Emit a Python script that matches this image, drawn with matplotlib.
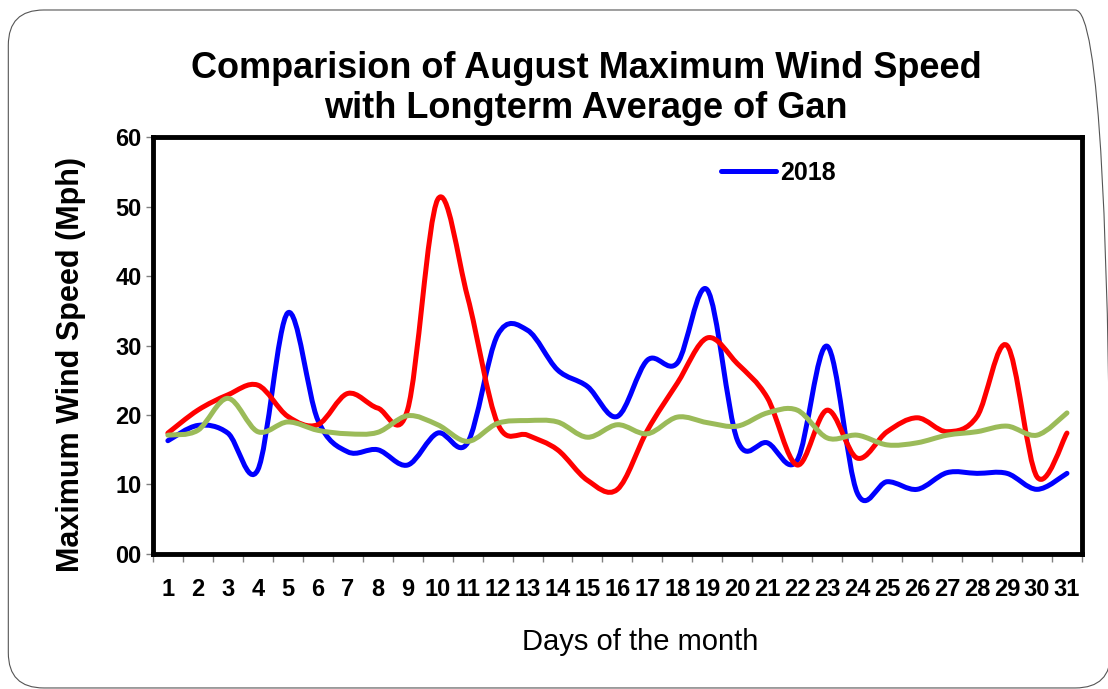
import matplotlib
matplotlib.use("Agg")
import matplotlib.pyplot as plt
from matplotlib.path import Path
from matplotlib.patches import PathPatch, FancyBboxPatch
from matplotlib.lines import Line2D

plt.rcParams['font.family'] = ['Liberation Sans', 'DejaVu Sans']

days = list(range(1, 32))
y2018 = [16.3, 18.5, 17.4, 12.1, 34.7, 19.3, 14.7, 15.0, 12.8, 17.4,
         16.0, 31.5, 32.2, 26.5, 24.1, 19.8, 27.9, 27.5, 38.0, 16.4,
         16.0, 13.5, 29.9, 8.8, 10.4, 9.3, 11.7, 11.6, 11.6, 9.3, 11.6]
y_red = [17.4, 20.7, 22.9, 24.3, 19.8, 18.6, 23.1, 21.0, 20.8, 51.0,
         37.0, 18.8, 17.1, 15.0, 10.6, 9.3, 17.8, 24.6, 31.1, 27.4,
         22.5, 12.8, 20.7, 13.8, 17.6, 19.6, 17.6, 19.8, 30.0, 11.1, 17.4]
y_green = [17.1, 17.8, 22.4, 17.6, 19.0, 17.8, 17.3, 17.5, 19.9, 18.6,
           16.2, 18.8, 19.2, 19.0, 16.8, 18.6, 17.3, 19.7, 18.9, 18.4,
           20.3, 20.7, 16.7, 17.1, 15.7, 16.0, 17.1, 17.6, 18.4, 17.1, 20.3]
yticks = [0, 10, 20, 30, 40, 50, 60]
ytick_labels = ['00', '10', '20', '30', '40', '50', '60']


def smooth_path(x, y):
    # Excel-like smoothed line: cubic Bezier segments (Catmull-Rom control points)
    verts = [(x[0], y[0])]
    codes = [Path.MOVETO]
    n = len(x)
    for i in range(n - 1):
        x0, y0 = (x[i - 1], y[i - 1]) if i > 0 else (x[i], y[i])
        x3, y3 = (x[i + 2], y[i + 2]) if i + 2 < n else (x[i + 1], y[i + 1])
        c1 = (x[i] + (x[i + 1] - x0) / 6, y[i] + (y[i + 1] - y0) / 6)
        c2 = (x[i + 1] - (x3 - x[i]) / 6, y[i + 1] - (y3 - y[i]) / 6)
        verts += [c1, c2, (x[i + 1], y[i + 1])]
        codes += [Path.CURVE4] * 3
    return Path(verts, codes)


fig = plt.figure(figsize=(11.08, 6.89), dpi=100)
ax = fig.add_axes([0.138, 0.196, 0.8385, 0.605])

# rounded frame around the whole chart
fig.patches.append(FancyBboxPatch((0.0075, 0.0015), 0.995, 0.984,
                                  boxstyle="round,pad=0,rounding_size=0.032",
                                  mutation_aspect=1.6,
                                  transform=fig.transFigure, fill=False,
                                  edgecolor='#555555', linewidth=0.8))

for ys, col in [(y2018, '#0000FF'), (y_red, '#FF0000'), (y_green, '#9BBB59')]:
    ax.add_patch(PathPatch(smooth_path(days, ys), fill=False, edgecolor=col,
                           linewidth=3.6, capstyle='round', joinstyle='round'))

ax.set_xlim(0.5, 31.5)
ax.set_ylim(0, 60)
ax.set_yticks(yticks)
ax.set_yticklabels(ytick_labels, fontsize=17, fontweight='bold')
ax.set_xticks(days)
ax.set_xticklabels([str(d) for d in days], fontsize=17, fontweight='bold')
ax.set_xticks([d + 0.5 for d in range(0, 32)], minor=True)
ax.tick_params(axis='x', which='major', length=0, pad=17)
ax.tick_params(axis='x', which='minor', length=6, color='#808080', width=1)
ax.tick_params(axis='y', length=5, color='#808080', width=1, pad=3)
for sp in ax.spines.values():
    sp.set_linewidth(3.5)
    sp.set_color('black')

ax.set_xlabel("Days of the month", fontsize=21)
ax.xaxis.set_label_coords(0.524, -0.178)
ax.set_ylabel("Maximum Wind Speed (Mph)", fontsize=22, fontweight='bold')
ax.yaxis.set_label_coords(-0.072, 0.455)

fig.text(0.529, 0.8285, "Comparision of August Maximum Wind Speed\nwith Longterm Average of Gan",
         ha='center', va='baseline', fontsize=26, fontweight='bold', linespacing=1.2)

handle = Line2D([], [], color='#0000FF', linewidth=3.6, solid_capstyle='round')
ax.legend([handle], ['2018'], loc='center left', bbox_to_anchor=(0.612, 0.914),
          frameon=False, prop={'size': 18, 'weight': 'bold'},
          borderpad=0, borderaxespad=0,
          handlelength=2.2, handletextpad=0.15)

fig.savefig("out.png", dpi=100)
